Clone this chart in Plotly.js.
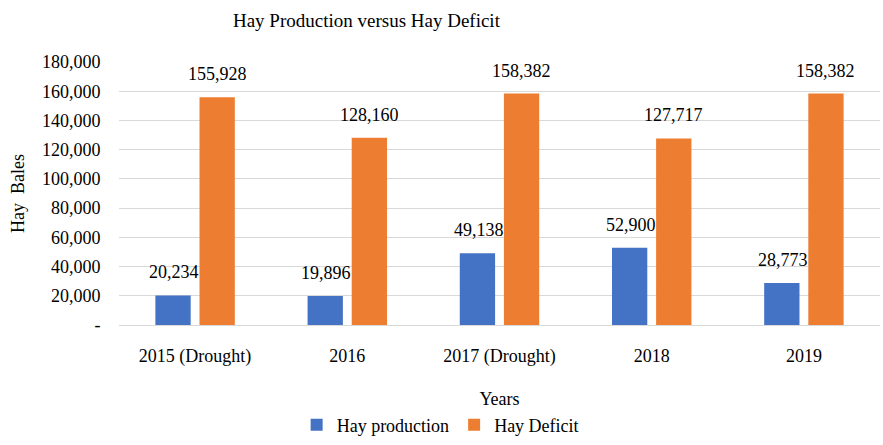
<!DOCTYPE html>
<html>
<head>
<meta charset="utf-8">
<script src="https://cdn.plot.ly/plotly-3.0.1.min.js"></script>
<style>html,body{margin:0;padding:0;background:#fff;}#chart{width:883px;height:445px;}</style>
</head>
<body>
<div id="chart"></div>
<script>
var categories = ["2015 (Drought)", "2016", "2017 (Drought)", "2018", "2019"];
var hayProduction = [20234, 19896, 49138, 52900, 28773];
var hayDeficit = [155928, 128160, 158382, 127717, 158382];
var yTickVals = [0, 20000, 40000, 60000, 80000, 100000, 120000, 140000, 160000, 180000];
var yTickText = ["-", "20,000", "40,000", "60,000", "80,000", "100,000", "120,000", "140,000", "160,000", "180,000"];

var FONT = "Liberation Serif, Times New Roman, serif";
var fmt = function (v) { return v.toLocaleString("en-US"); };

var traces = [
  {type: "bar", name: "Hay production", x: categories, y: hayProduction,
   marker: {color: "#4472C4"}, hoverinfo: "none"},
  {type: "bar", name: "Hay Deficit", x: categories, y: hayDeficit,
   marker: {color: "#ED7D31"}, hoverinfo: "none"}
];

var annotations = [];
categories.forEach(function (c, i) {
  annotations.push({x: i, y: hayProduction[i], xref: "x", yref: "y", text: fmt(hayProduction[i]),
    showarrow: false, yanchor: "bottom", xshift: -21, yshift: 11,
    font: {family: FONT, size: 18, color: "#000"}});
  annotations.push({x: i, y: hayDeficit[i], xref: "x", yref: "y", text: fmt(hayDeficit[i]),
    showarrow: false, yanchor: "bottom", xshift: 22, yshift: 11,
    font: {family: FONT, size: 18, color: "#000"}});
});

var layout = {
  width: 883, height: 445,
  margin: {l: 119, r: 3, t: 62, b: 119},
  paper_bgcolor: "#fff", plot_bgcolor: "#fff",
  font: {family: FONT, size: 18, color: "#000"},
  title: {text: "Hay Production versus Hay Deficit", x: 0.415, xanchor: "center",
          y: 0.955, yanchor: "middle", font: {family: FONT, size: 19, color: "#000"}},
  barmode: "group", bargap: 0.42, bargroupgap: 0.2,
  showlegend: true,
  legend: {orientation: "h", x: 0.422, xanchor: "center", y: -0.445, yanchor: "bottom",
           font: {family: FONT, size: 18, color: "#000"}, itemwidth: 30, traceorder: "normal"},
  xaxis: {type: "category", range: [-0.5, 4.5], showgrid: false, showline: true, linecolor: "#d9d9d9", linewidth: 1,
          ticks: "outside", ticklen: 14, tickcolor: "rgba(0,0,0,0)",
          tickfont: {family: FONT, size: 18, color: "#000"},
          title: {text: "Years", standoff: 26, font: {family: FONT, size: 18, color: "#000"}}},
  yaxis: {range: [0, 180000], tickvals: yTickVals, ticktext: yTickText,
          showgrid: true, gridcolor: "#d9d9d9", gridwidth: 1, zeroline: false, showline: false,
          ticks: "outside", ticklen: 14, tickcolor: "rgba(0,0,0,0)",
          tickfont: {family: FONT, size: 18, color: "#000"},
          title: {text: "Hay\u00a0 Bales", standoff: 12, font: {family: FONT, size: 18, color: "#000"}}},
  annotations: annotations
};

Plotly.newPlot("chart", traces, layout, {displayModeBar: false, staticPlot: true});
</script>
</body>
</html>
